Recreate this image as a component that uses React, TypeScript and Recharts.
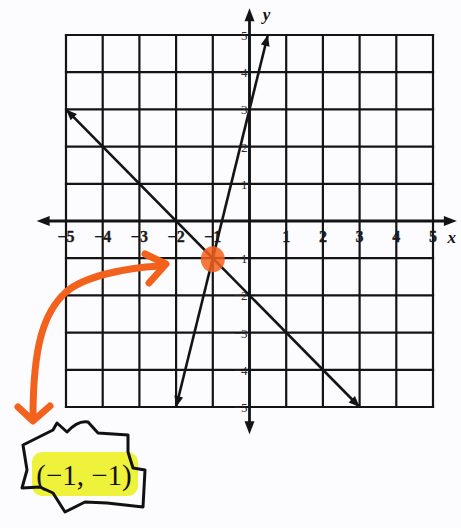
import React from 'react';
import { ComposedChart, Line, Scatter, XAxis, YAxis, ReferenceLine } from 'recharts';

// ---- data ----
const gridTicks = [-5, -4, -3, -2, -1, 0, 1, 2, 3, 4, 5];
const xTickLabels = [-5, -4, -3, -2, -1, 1, 2, 3, 4, 5];
const yTickLabels = [5, 4, 3, 2, 1, -1, -2, -3, -4, -5];
const lineA = [ { x: -5, y: 3 }, { x: 3, y: -5 } ];      // y = -x - 2
const lineB = [ { x: -2, y: -5 }, { x: 0.5, y: 5 } ];    // y = 4x + 3
const solution = [ { x: -1, y: -1 } ];
const xAxisExtent = [-5.8, 5.65];
const yAxisExtent = [-5.73, 5.72];
const solutionText = '(\u22121, \u22121)';

const fmt = (v: number) => (v < 0 ? '\u2212' + Math.abs(v) : String(v));
const xLabelData = xTickLabels.map((v) => ({ x: v, y: 0, label: fmt(v) }));
const yLabelData = yTickLabels.map((v) => ({ x: 0, y: v, label: fmt(v) }));

const INK = '#141414';
const ORANGE = '#f3621c';
const FONT = '"Liberation Serif", "DejaVu Serif", serif';

function arrowPath(tx: number, ty: number, ux: number, uy: number, len: number, half: number) {
  const bx = tx - ux * len;
  const by = ty - uy * len;
  const px = -uy;
  const py = ux;
  return `M${tx},${ty} L${bx + px * half},${by + py * half} L${bx - px * half},${by - py * half} Z`;
}

const makeLineArrows = (data: { x: number; y: number }[]) => (props: any) => {
  const { cx, cy, index } = props;
  if (cx == null || cy == null) return <g key={`a-${index}`} />;
  const other = data[index === 0 ? 1 : 0];
  const me = data[index];
  let dx = me.x - other.x;
  let dy = -(me.y - other.y);
  const n = Math.hypot(dx, dy) || 1;
  dx /= n;
  dy /= n;
  return <path key={`a-${index}`} d={arrowPath(cx, cy, dx, dy, 11, 4.5)} fill={INK} stroke="none" />;
};

const makeAxisShape = (title: string) => (props: any) => {
  const { x1, y1, x2, y2 } = props;
  let dx = x2 - x1;
  let dy = y2 - y1;
  const n = Math.hypot(dx, dy) || 1;
  dx /= n;
  dy /= n;
  const isX = Math.abs(dx) > Math.abs(dy);
  return (
    <g>
      <line x1={x1 + dx * 6} y1={y1 + dy * 6} x2={x2 - dx * 6} y2={y2 - dy * 6} stroke={INK} strokeWidth={2.8} />
      <path d={arrowPath(x1, y1, -dx, -dy, 13, 5)} fill={INK} />
      <path d={arrowPath(x2, y2, dx, dy, 13, 5)} fill={INK} />
      <text
        x={isX ? x2 - 5 : x2 + 17}
        y={isX ? y2 + 22 : y2 + 12}
        fontFamily={FONT}
        fontStyle="italic"
        fontWeight="bold"
        fontSize={17}
        fill={INK}
        textAnchor="middle"
      >
        {title}
      </text>
    </g>
  );
};

const XLabel = (props: any) => {
  const { cx, cy, payload } = props;
  return (
    <text
      x={cx}
      y={cy + 21}
      textAnchor="middle"
      fontFamily={FONT}
      fontSize={16}
      fontWeight="bold"
      fill="#1a1a1a"
      stroke="#1a1a1a"
      strokeWidth={0.3}
    >
      {payload.label}
    </text>
  );
};

const YLabel = (props: any) => {
  const { cx, cy, payload } = props;
  return (
    <text x={cx - 2} y={cy + 5} textAnchor="end" fontFamily={FONT} fontSize={13} fill="#2a2a2a">
      {payload.label}
    </text>
  );
};

const SolutionBlob = (props: any) => {
  const { cx, cy } = props;
  return <ellipse cx={cx} cy={cy + 1} rx={12} ry={13} fill={ORANGE} opacity={0.85} />;
};

export default function App() {
  return (
    <div style={{ position: 'absolute', left: 0, top: 0, width: 461, height: 528, background: '#fcfbfd' }}>
      <ComposedChart width={461} height={528} margin={{ top: 35, right: 28, bottom: 121, left: 66 }}>
        <XAxis type="number" dataKey="x" domain={[-5, 5]} ticks={gridTicks} hide />
        <YAxis type="number" dataKey="y" domain={[-5, 5]} ticks={gridTicks} hide />
        {gridTicks.map((k) => (
          <ReferenceLine
            key={`v${k}`}
            segment={[{ x: k, y: -5 }, { x: k, y: 5 }]}
            stroke={INK}
            strokeWidth={2.2}
            strokeLinecap="square"
            ifOverflow="visible"
          />
        ))}
        {gridTicks.map((k) => (
          <ReferenceLine
            key={`h${k}`}
            segment={[{ x: -5, y: k }, { x: 5, y: k }]}
            stroke={INK}
            strokeWidth={2.2}
            strokeLinecap="square"
            ifOverflow="visible"
          />
        ))}
        <ReferenceLine
          segment={[{ x: xAxisExtent[0], y: 0 }, { x: xAxisExtent[1], y: 0 }]}
          ifOverflow="visible"
          stroke={INK}
          shape={makeAxisShape('x')}
        />
        <ReferenceLine
          segment={[{ x: 0, y: yAxisExtent[0] }, { x: 0, y: yAxisExtent[1] }]}
          ifOverflow="visible"
          stroke={INK}
          shape={makeAxisShape('y')}
        />
        <Scatter data={xLabelData} dataKey="y" shape={XLabel} isAnimationActive={false} />
        <Scatter data={yLabelData} dataKey="y" shape={YLabel} isAnimationActive={false} />
        <Scatter data={solution} dataKey="y" shape={SolutionBlob} isAnimationActive={false} />
        <Line
          data={lineA}
          dataKey="y"
          type="linear"
          stroke={INK}
          strokeWidth={2.6}
          dot={makeLineArrows(lineA)}
          activeDot={false}
          isAnimationActive={false}
        />
        <Line
          data={lineB}
          dataKey="y"
          type="linear"
          stroke={INK}
          strokeWidth={2.6}
          dot={makeLineArrows(lineB)}
          activeDot={false}
          isAnimationActive={false}
        />
      </ComposedChart>
      <svg width={461} height={528} style={{ position: 'absolute', left: 0, top: 0, pointerEvents: 'none' }}>
        <path
          d="M160 266 C 125 268, 85 276, 66 292 C 44 312, 33 345, 33 418"
          fill="none"
          stroke={ORANGE}
          strokeWidth={7}
          strokeLinecap="round"
        />
        <path d="M145 254 L166 264 L149 283" fill="none" stroke={ORANGE} strokeWidth={7} strokeLinecap="round" strokeLinejoin="round" />
        <path d="M18 407 L33 421 L50 406" fill="none" stroke={ORANGE} strokeWidth={7} strokeLinecap="round" strokeLinejoin="round" />
        <rect x={32} y={452} width={106} height={44} rx={10} fill="#eef23a" />
        <path
          d="M23 445 L53 430 L57 423 L67 432 Q78 420 88 422 L98 433 L128 435 L128 452 L133 468 L145 470 L143 507 L107 503 L85 502 L65 512 L53 493 L40 487 L22 488 L27 470 Z"
          fill="none"
          stroke="#111"
          strokeWidth={3}
          strokeLinejoin="round"
        />
        <text x={84} y={485} textAnchor="middle" fontFamily={FONT} fontSize={29} fill="#111">
          {solutionText}
        </text>
      </svg>
    </div>
  );
}
